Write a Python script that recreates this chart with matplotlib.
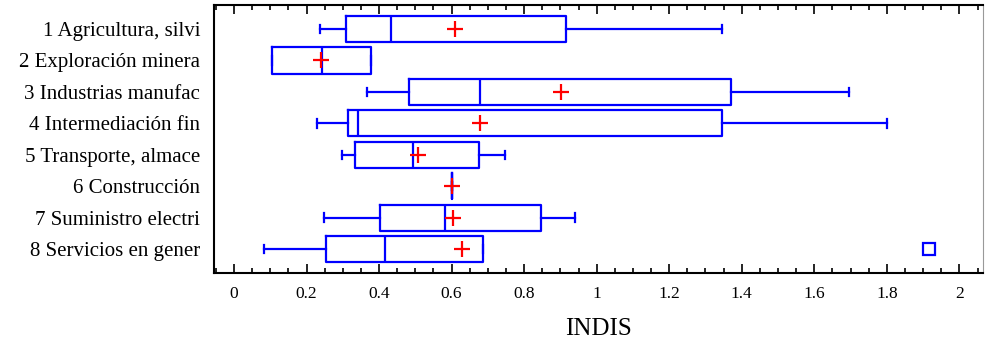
import matplotlib
matplotlib.use("Agg")
import matplotlib.pyplot as plt
from matplotlib.ticker import MultipleLocator

categories = ["1 Agricultura, silvi", "2 Exploración minera", "3 Industrias manufac",
              "4 Intermediación fin", "5 Transporte, almace", "6 Construcción",
              "7 Suministro electri", "8 Servicios en gener"]
whisker_low = [0.236, 0.106, 0.366, 0.230, 0.297, 0.600, 0.247, 0.082]
q1 = [0.309, 0.106, 0.483, 0.315, 0.333, 0.600, 0.402, 0.253]
median = [0.434, 0.242, 0.679, 0.341, 0.494, 0.600, 0.581, 0.416]
mean = [0.609, 0.240, 0.902, 0.679, 0.508, 0.600, 0.604, 0.630]
q3 = [0.915, 0.377, 1.370, 1.345, 0.675, 0.600, 0.846, 0.687]
whisker_high = [1.345, 0.377, 1.695, 1.800, 0.747, 0.600, 0.939, 0.687]
outliers = [[], [], [], [], [], [], [], [1.917]]

blue = "#0000ff"
serif = ["Liberation Serif", "DejaVu Serif"]

fig = plt.figure(figsize=(9.85, 3.43), dpi=100)
ax = fig.add_axes([0.2173, 0.204, 0.781, 0.781])

stats = []
for i in range(len(categories)):
    stats.append(dict(label=categories[i], whislo=whisker_low[i], q1=q1[i], med=median[i],
                      q3=q3[i], whishi=whisker_high[i], mean=mean[i], fliers=outliers[i]))

positions = list(range(1, len(categories) + 1))
lw = 1.6
ax.bxp(stats, positions=positions, vert=False, widths=0.83, capwidths=0.27,
       showmeans=True, showfliers=True,
       boxprops=dict(color=blue, linewidth=lw),
       whiskerprops=dict(color=blue, linewidth=lw),
       capprops=dict(color=blue, linewidth=lw),
       medianprops=dict(color=blue, linewidth=lw),
       meanprops=dict(marker="+", markeredgecolor="red", markersize=12, markeredgewidth=1.6),
       flierprops=dict(marker="s", markerfacecolor="none", markeredgecolor=blue,
                       markersize=9, markeredgewidth=1.6))

ax.set_ylim(8.76, 0.24)
ax.set_xlim(-0.055, 2.066)
ax.xaxis.set_major_locator(MultipleLocator(0.2))
ax.xaxis.set_minor_locator(MultipleLocator(0.05))
ax.tick_params(axis="x", which="both", direction="in", top=True, bottom=True, width=1.2)
ax.tick_params(axis="x", which="major", length=6.5, pad=9, labelsize=12.5)
ax.tick_params(axis="x", which="minor", length=3.5)
ax.tick_params(axis="y", length=0, pad=10, labelsize=15)
ax.set_xticks([0, 0.2, 0.4, 0.6, 0.8, 1.0, 1.2, 1.4, 1.6, 1.8, 2.0])
ax.set_xticklabels(["0", "0.2", "0.4", "0.6", "0.8", "1", "1.2", "1.4", "1.6", "1.8", "2"])
for lab in ax.get_xticklabels() + ax.get_yticklabels():
    lab.set_family(serif)
ax.set_yticks(positions)
ax.set_yticklabels(categories, family=serif)
ax.set_xlabel("INDIS", family=serif, fontsize=18, labelpad=12)
for s in ["top", "bottom", "left"]:
    ax.spines[s].set_linewidth(1.5)
ax.spines["right"].set_color("#999999")

fig.savefig("out.png", dpi=100)
